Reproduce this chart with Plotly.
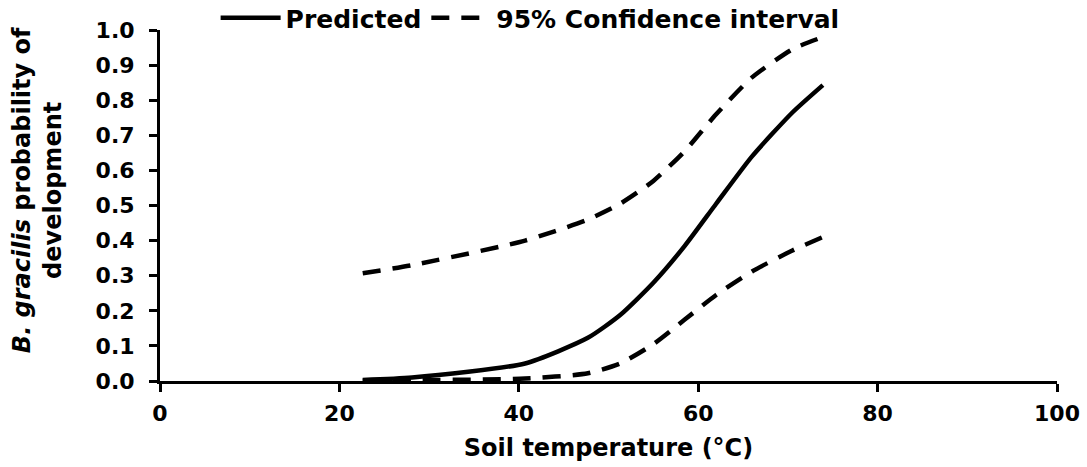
import plotly.graph_objects as go

# Soil temperature (°C) at which the model was evaluated
temperature = [22.6, 28.1, 40.7, 47.7, 51.3, 55.0, 58.5, 62.0, 66.0, 70.5, 73.9]

# Predicted probability of development and its 95% confidence bounds
predicted = [0.003, 0.010, 0.050, 0.123, 0.188, 0.280, 0.385, 0.505, 0.640, 0.765, 0.843]
ci_upper = [0.307, 0.330, 0.400, 0.460, 0.505, 0.570, 0.655, 0.760, 0.865, 0.945, 0.980]
ci_lower = [0.0005, 0.002, 0.007, 0.022, 0.050, 0.105, 0.175, 0.245, 0.312, 0.372, 0.410]

FONT = "DejaVu Sans"
INK = "black"
LW = 4.5
DASH = "18px,12px"

fig = go.Figure()

fig.add_trace(go.Scatter(
    x=temperature, y=predicted, mode="lines", name="Predicted",
    line=dict(color=INK, width=LW, shape="spline", smoothing=0.6),
))
fig.add_trace(go.Scatter(
    x=temperature, y=ci_upper, mode="lines", name="95% Confidence interval",
    line=dict(color=INK, width=LW, dash=DASH, shape="spline", smoothing=0.6),
))
fig.add_trace(go.Scatter(
    x=temperature, y=ci_lower, mode="lines", name="95% Confidence interval",
    showlegend=False,
    line=dict(color=INK, width=LW, dash=DASH, shape="spline", smoothing=0.6),
))

axis_common = dict(
    showgrid=False, zeroline=False, showline=True, linecolor=INK, linewidth=3,
    ticks="outside", ticklen=8, tickwidth=3, tickcolor=INK,
    tickfont=dict(family=FONT, size=22, color=INK, weight="bold"),
)

fig.update_xaxes(
    range=[0, 100], dtick=20, tick0=0, ticklabelstandoff=3,
    title=dict(text="Soil temperature (°C)", standoff=14,
               font=dict(family=FONT, size=24, color=INK, weight="bold")),
    **axis_common,
)
fig.update_yaxes(
    range=[0, 1.0], dtick=0.1, tick0=0, tickformat=".1f", ticklabelstandoff=10,
    **axis_common,
)

fig.add_annotation(
    xref="paper", yref="paper", x=-0.137, y=0.544,
    text="<i>B. gracilis</i> probability of<br>development",
    textangle=-90, showarrow=False, xanchor="center", yanchor="middle",
    font=dict(family=FONT, size=24, color=INK, weight="bold"),
)

fig.update_layout(
    width=1087, height=467,
    margin=dict(l=160, r=30, t=30, b=86, autoexpand=False),
    paper_bgcolor="white", plot_bgcolor="white",
    showlegend=True,
    legend=dict(
        orientation="h", x=0.062, y=1.034, xanchor="left", yanchor="middle",
        font=dict(family=FONT, size=25, color=INK, weight="bold"),
        bgcolor="rgba(0,0,0,0)", itemwidth=60,
    ),
)

fig.write_html("out.html")
